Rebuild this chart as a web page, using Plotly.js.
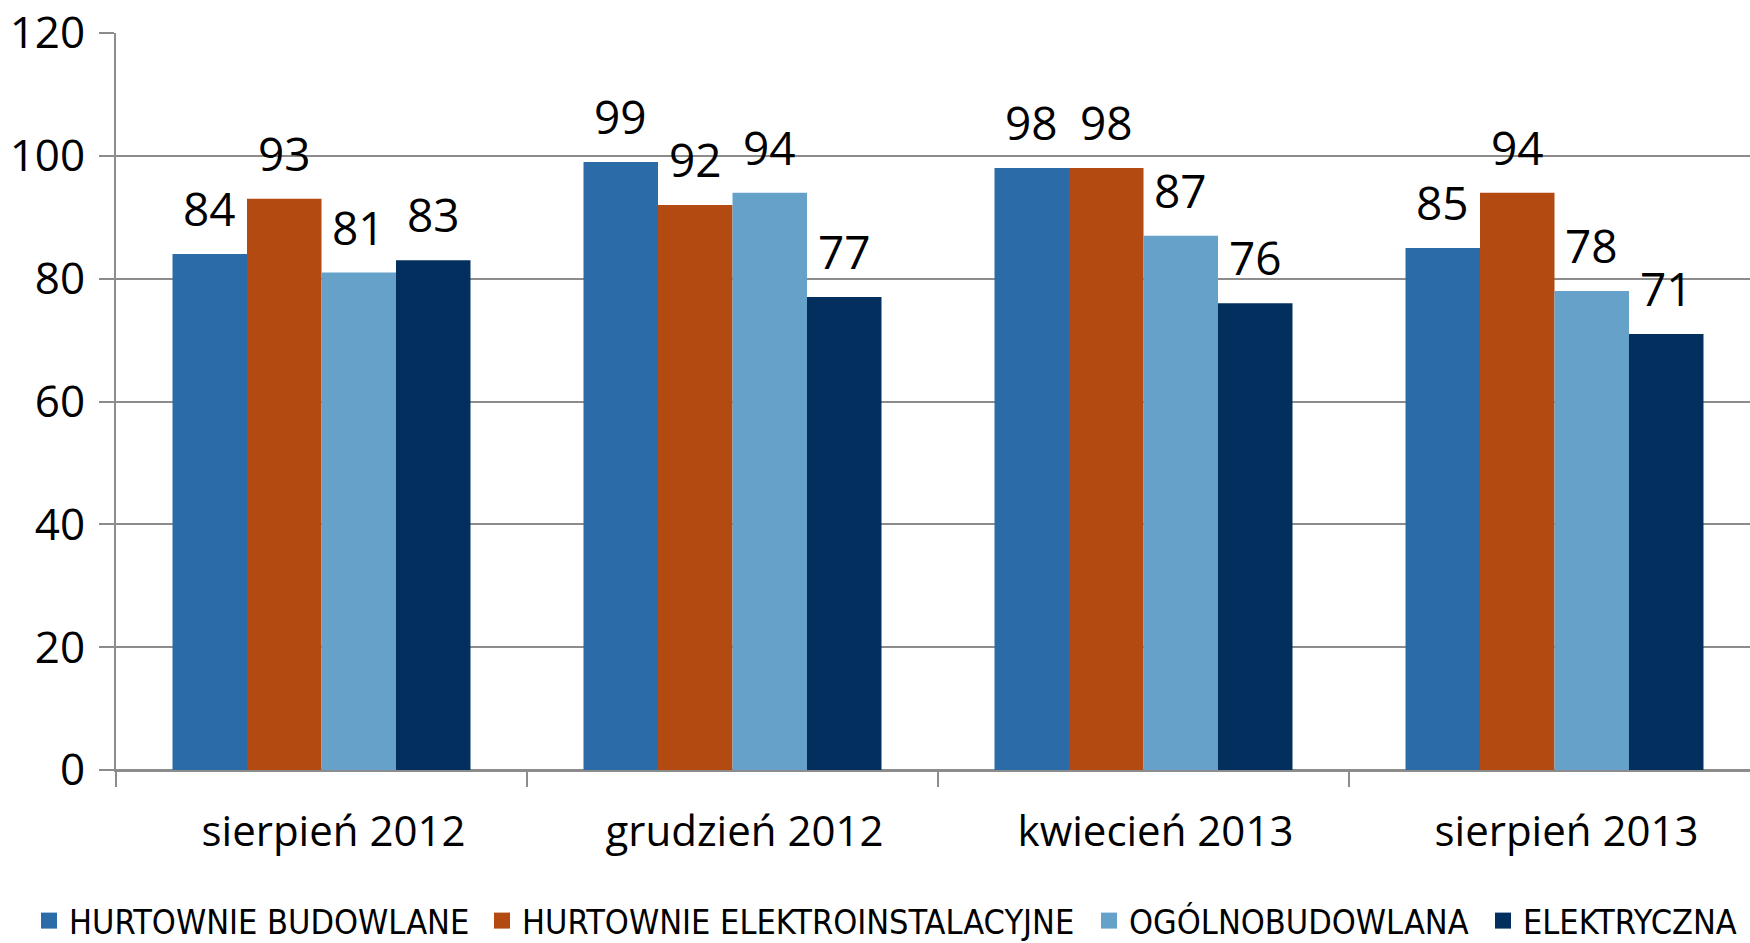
<!DOCTYPE html>
<html>
<head>
<meta charset="utf-8">
<script src="https://cdn.plot.ly/plotly-3.0.1.min.js"></script>
<style>html,body{margin:0;padding:0;background:#fff;}#chart{width:1750px;height:943px;}</style>
</head>
<body>
<div id="chart"></div>
<script>
const categories = ["sierpień 2012", "grudzień 2012", "kwiecień 2013", "sierpień 2013"];
const seriesNames = ["HURTOWNIE BUDOWLANE", "HURTOWNIE ELEKTROINSTALACYJNE", "OGÓLNOBUDOWLANA", "ELEKTRYCZNA"];
const hurtownieBudowlane = [84, 99, 98, 85];
const hurtownieElektro = [93, 92, 98, 94];
const ogolnobudowlana = [81, 94, 87, 78];
const elektryczna = [83, 77, 76, 71];
const yTicks = [0, 20, 40, 60, 80, 100, 120];

const seriesValues = [hurtownieBudowlane, hurtownieElektro, ogolnobudowlana, elektryczna];
const colors = ["#2A6BA8", "#B24A12", "#65A1C9", "#032F5E"];
const bargap = 0.275;
const nSeries = seriesValues.length;
const barW = (1 - bargap) / nSeries;

const legendKey = k => (k === 0 ? "legend" : "legend" + (k + 1));

const barTraces = seriesValues.map((vals, k) => ({
  type: "bar",
  name: seriesNames[k],
  x: categories,
  y: vals,
  marker: {color: colors[k], line: {width: 0}},
  hoverinfo: "skip",
  showlegend: false
}));

// legend-only entries (larger square swatches)
const legendTraces = seriesNames.map((nm, k) => ({
  type: "scatter",
  mode: "markers",
  name: nm,
  x: [categories[0]],
  y: [null],
  marker: {symbol: "square", size: 16, color: colors[k]},
  hoverinfo: "skip",
  showlegend: true,
  legend: legendKey(k)
}));

const annotations = [];
seriesValues.forEach((vals, k) => {
  vals.forEach((v, i) => {
    annotations.push({
      x: i + (k - (nSeries - 1) / 2) * barW,
      y: v,
      xref: "x", yref: "y",
      text: String(v),
      showarrow: false,
      xanchor: "center", yanchor: "bottom",
      yshift: 13,
      font: {family: "Open Sans", size: 46, color: "#000"}
    });
  });
});

const grid = "#8C8C8C";
const legendFont = {family: "DejaVu Sans Condensed, Open Sans", size: 34, color: "#000"};
const legendLeftPx = [29, 482, 1089, 1483];
const legendDefs = {};
legendLeftPx.forEach((px, k) => {
  legendDefs[legendKey(k)] = {
    xref: "container", yref: "container",
    x: px / 1750, xanchor: "left", y: 1 - 921 / 943, yanchor: "middle",
    orientation: "h", font: legendFont, bgcolor: "rgba(0,0,0,0)",
    borderwidth: 0, itemclick: false, itemdoubleclick: false, itemsizing: "trace"
  };
});

const layout = Object.assign({
  width: 1750, height: 943,
  margin: {l: 116, r: 0, t: 33, b: 173, autoexpand: false},
  paper_bgcolor: "#fff", plot_bgcolor: "#fff",
  barmode: "group", bargap: bargap, bargroupgap: 0,
  showlegend: true,
  xaxis: {
    type: "category",
    range: [-0.5, 3.5 - 10 / 411],
    showline: true, linecolor: grid, linewidth: 2,
    ticks: "outside", tickson: "boundaries", ticklen: 15, tickcolor: grid, tickwidth: 2,
    showgrid: false, zeroline: false,
    tickfont: {family: "Open Sans", size: 42, color: "#000"},
    ticklabelstandoff: 24,
    ticklabelshift: 12
  },
  yaxis: {
    range: [0, 120],
    tickvals: yTicks,
    ticktext: yTicks.map(String),
    showline: true, linecolor: grid, linewidth: 2,
    ticks: "outside", ticklen: 15, tickcolor: grid, tickwidth: 2,
    showgrid: true, gridcolor: grid, gridwidth: 2,
    zeroline: true, zerolinecolor: grid, zerolinewidth: 2,
    tickfont: {family: "Open Sans", size: 44, color: "#000"},
    ticklabelstandoff: 5
  },
  annotations: annotations
}, legendDefs);

Plotly.newPlot("chart", barTraces.concat(legendTraces), layout, {displayModeBar: false, staticPlot: true});
</script>
</body>
</html>
